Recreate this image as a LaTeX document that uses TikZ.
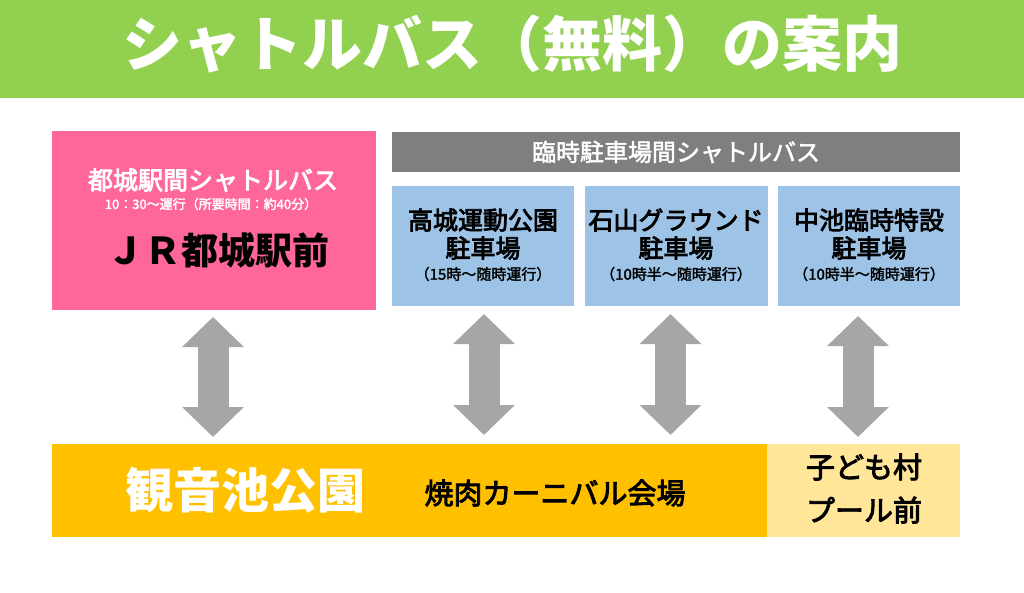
\documentclass[tikz,border=0pt]{standalone}
\usepackage{fontspec}
\setmainfont{Noto Sans CJK JP}
\usetikzlibrary{arrows.meta,calc}
\definecolor{bannergreen}{HTML}{92D050}
\definecolor{jrpink}{HTML}{FF6699}
\definecolor{bargray}{HTML}{7F7F7F}
\definecolor{parkblue}{HTML}{9DC3E6}
\definecolor{arrowgray}{HTML}{A6A6A6}
\definecolor{venueorange}{HTML}{FFC000}
\definecolor{venuelight}{HTML}{FFE699}
\newcommand{\fs}[1]{\fontsize{#1}{#1}\selectfont}
\newcommand{\heavier}[2]{\special{pdf:literal direct 2 Tr #1 w}#2\special{pdf:literal direct 0 Tr}}
\begin{document}
\begin{tikzpicture}[x=1pt,y=-1pt,
  panel/.style={draw=none, inner sep=0pt, outer sep=0pt, anchor=north west},
  txt/.style={inner sep=0pt, align=center},
  bigarrow/.style={draw=arrowgray, line width=31pt,
    {Triangle[width=60pt,length=30pt]}-{Triangle[width=60pt,length=30pt]}}]
\useasboundingbox (0,0) rectangle (1024,592);

% banner
\node[panel, fill=bannergreen, minimum width=1024pt, minimum height=98pt] (banner) at (0,0) {};
\node[txt, text=white, font=\fs{60}\bfseries] (title) at (512,44) {シャトルバス（無料）の案内};

% JR box
\node[panel, fill=jrpink, minimum width=324pt, minimum height=179pt] (jr) at (52,131) {};
\node[txt, text=white, font=\fs{25}] (jrhead) at (213,180) {\heavier{0.8}{都城駅間シャトルバス}};
\node[txt, text=white, font=\fs{13}] (jrsub) at (211,204) {\heavier{0.3}{10：30～運行（所要時間：約40分）}};
\node[txt, text=black, font=\fs{37}\bfseries] (jrname) at (218,250) {ＪＲ都城駅前};

% gray header bar
\node[panel, fill=bargray, minimum width=568pt, minimum height=40pt] (bar) at (392,132) {};
\node[txt, text=white, font=\fs{24}] (bartext) at (676,152) {\heavier{0.5}{臨時駐車場間シャトルバス}};

% parking boxes
\node[panel, fill=parkblue, minimum width=182pt, minimum height=120pt] (p1) at (392,186) {};
\node[panel, fill=parkblue, minimum width=183pt, minimum height=120pt] (p2) at (585,186) {};
\node[panel, fill=parkblue, minimum width=182pt, minimum height=120pt] (p3) at (778,186) {};

\node[txt, font=\fs{25}] (p1a) at (483,220) {\heavier{0.8}{高城運動公園}};
\node[txt, font=\fs{25}] (p1b) at (483,248) {\heavier{0.8}{駐車場}};
\node[txt, font=\fs{15}] (p1c) at (483,274) {\heavier{0.3}{（15時～随時運行）}};

\node[txt, font=\fs{25}] (p2a) at (676,220) {\heavier{0.8}{石山グラウンド}};
\node[txt, font=\fs{25}] (p2b) at (676,248) {\heavier{0.8}{駐車場}};
\node[txt, font=\fs{15}] (p2c) at (676,274) {\heavier{0.3}{（10時半～随時運行）}};

\node[txt, font=\fs{25}] (p3a) at (869,220) {\heavier{0.8}{中池臨時特設}};
\node[txt, font=\fs{25}] (p3b) at (869,248) {\heavier{0.8}{駐車場}};
\node[txt, font=\fs{15}] (p3c) at (869,274) {\heavier{0.3}{（10時半～随時運行）}};

% venue boxes
\node[panel, fill=venueorange, minimum width=715pt, minimum height=93pt] (park) at (52,444) {};
\node[panel, fill=venuelight, minimum width=193pt, minimum height=93pt] (pool) at (767,444) {};
\node[txt, text=white, font=\fs{48}\bfseries] (parkname) at (245,490) {観音池公園};
\node[txt, font=\fs{29}] (yakiniku) at (555,493) {\heavier{0.9}{焼肉カーニバル会場}};
\node[txt, font=\fs{29}] (poola) at (864,467) {\heavier{0.9}{子ども村}};
\node[txt, font=\fs{29}] (poolb) at (864,510) {\heavier{0.9}{プール前}};

% arrows
\coordinate (a0t) at ($(jr.south)+(-1pt,-7pt)$);
\coordinate (a0b) at (a0t |- park.north);
\draw[bigarrow] (a0t) -- ($(a0b)+(0,7pt)$);
\coordinate (a1t) at ($(p1.south)+(1pt,-8pt)$);
\coordinate (a1b) at (a1t |- park.north);
\draw[bigarrow] (a1t) -- ($(a1b)+(0,9pt)$);
\coordinate (a2t) at ($(p2.south)+(-6pt,-8pt)$);
\coordinate (a2b) at (a2t |- park.north);
\draw[bigarrow] (a2t) -- ($(a2b)+(0,9pt)$);
\coordinate (a3t) at ($(p3.south)+(-11pt,-10pt)$);
\coordinate (a3b) at (a3t |- pool.north);
\draw[bigarrow] (a3t) -- ($(a3b)+(0,7pt)$);
\end{tikzpicture}
\end{document}
